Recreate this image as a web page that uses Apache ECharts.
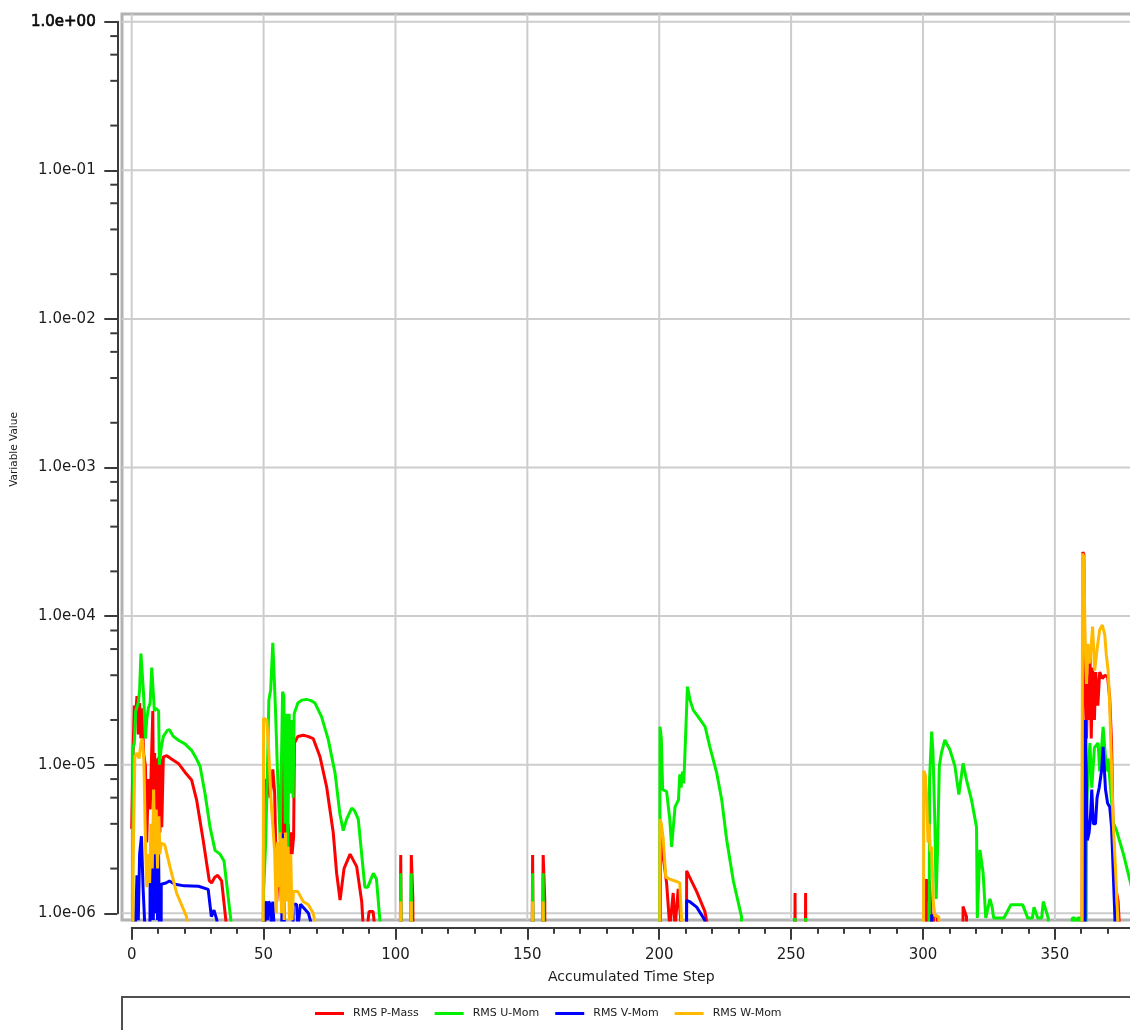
<!DOCTYPE html>
<html>
<head>
<meta charset="utf-8">
<script src="https://cdn.jsdelivr.net/npm/echarts@6/dist/echarts.min.js"></script>
<style>
  html, body { margin: 0; padding: 0; background: #ffffff; }
  #chart { width: 1130px; height: 1030px; }
</style>
</head>
<body>
<div id="chart"></div>
<script>
// Residual monitor: RMS residuals against accumulated time step (log scale)
const seriesNames = ['RMS P-Mass', 'RMS U-Mom', 'RMS V-Mom', 'RMS W-Mom'];
const seriesColors = ['#ff0000', '#00f000', '#0000ff', '#ffba00'];

const xGridSteps = [0, 50, 100, 150, 200, 250, 300, 350];
const yDecades = [1e-6, 1e-5, 1e-4, 1e-3, 1e-2, 1e-1, 1];
const minorMultipliers = [2, 4, 6, 8];

// [accumulated time step, residual]; 1e-9 marks values far below the plotted floor
const pMass = [
  [0, 3.7e-6], [0.5, 1.2e-5], [1, 2.5e-5], [1.5, 2.2e-5], [2, 2.9e-5], [2.5, 1.6e-5], [3, 2.6e-5], [3.5, 1.5e-5],
  [4, 2.4e-5], [4.5, 1.2e-5], [5.2, 9.8e-6], [5.7, 3e-6], [6.3, 8e-6], [7, 5e-6], [7.5, 1.1e-5], [8, 2.3e-5],
  [8.3, 4e-6], [8.7, 1.2e-5], [9.1, 3.5e-6], [9.5, 1.1e-5], [9.9, 3.5e-6], [10.3, 1.13e-5], [10.7, 3.5e-6],
  [11.1, 1.1e-5], [11.4, 3.8e-6], [12, 1.13e-5], [13.3, 1.15e-5], [15.5, 1.08e-5], [17.7, 1.02e-5], [20.2, 8.9e-6],
  [22.7, 7.9e-6], [24.6, 5.8e-6], [27.1, 3.1e-6], [29.4, 1.66e-6], [30.3, 1.6e-6], [31.5, 1.75e-6], [32.6, 1.8e-6],
  [34.1, 1.65e-6], [36, 8e-7], [37, 1e-9],
  [49.5, 1e-9], [50, 5.8e-6], [50.5, 8e-6], [51, 5.2e-6], [51.8, 9.8e-6], [52.5, 6e-6], [53.5, 9.3e-6], [54.2, 6.5e-6],
  [55, 1.2e-6], [56, 3e-6], [56.7, 1.2e-6], [57.3, 1.3e-5], [57.8, 3e-6], [58.3, 1.1e-5], [58.8, 1.5e-6], [59.3, 4e-6],
  [59.8, 2.5e-6], [60.3, 3.5e-6], [60.8, 2.5e-6], [61.4, 3.3e-6], [61.7, 1.4e-5], [63, 1.55e-5], [65, 1.58e-5],
  [66.8, 1.55e-5], [68.8, 1.5e-5], [71.4, 1.13e-5], [73.9, 7.1e-6], [76.4, 3.5e-6], [77.7, 1.86e-6], [79, 1.23e-6],
  [80.5, 2e-6], [82.8, 2.5e-6], [85.3, 2.06e-6], [87.2, 1.2e-6], [87.8, 8e-7], [89.3, 8e-7], [90, 1.03e-6],
  [91.5, 1.03e-6], [92.2, 8e-7], [93, 1e-9],
  [101, 1e-9], [102, 2.47e-6], [103, 1e-9], [105, 1e-9], [106, 2.47e-6], [106.6, 1.25e-6], [107, 1e-9],
  [151, 1e-9], [152, 2.47e-6], [153, 1e-9], [155, 1e-9], [156, 2.47e-6], [156.6, 1.25e-6], [157, 1e-9],
  [200.3, 1e-9], [200.5, 3.5e-6], [201.5, 2.4e-6], [202.8, 1.6e-6], [204, 8e-7], [205.3, 1.37e-6], [206, 8e-7],
  [207.2, 1.46e-6], [208.4, 8e-7], [209.9, 1e-9], [210.4, 1.93e-6], [211.2, 1.8e-6], [214.2, 1.4e-6], [217.3, 1.03e-6],
  [218.5, 8e-7], [219, 1e-9],
  [251, 1e-9], [251.5, 1.37e-6], [252, 1e-9], [255, 1e-9], [255.5, 1.37e-6], [256, 1e-9],
  [301, 1e-9], [301.3, 1.7e-6], [301.8, 1.2e-6], [302.4, 1.65e-6], [303, 1.1e-6], [303.3, 1e-9], [304, 9.8e-7],
  [305.5, 9.5e-7], [306, 1e-9], [314.5, 1e-9], [315.2, 1.11e-6], [316.5, 9.5e-7], [317, 1e-9],
  [360, 1e-9], [360.6, 2.7e-4], [361, 2.6e-4], [361.5, 3e-5], [362, 1.5e-5], [362.5, 4e-5], [363, 2e-5], [363.3, 5.6e-5],
  [363.8, 1.5e-5], [364.3, 4.5e-5], [365, 2e-5], [365.5, 4.2e-5], [366.3, 2.5e-5], [367, 4.2e-5], [368, 3.8e-5],
  [369, 4e-5], [370, 3.9e-5], [370.8, 2.8e-5], [371.5, 1.4e-5], [372.1, 3.6e-6], [373, 1.5e-6], [374, 1.2e-6],
  [374.5, 8e-7], [375, 1e-9]
];

const uMom = [
  [0, 1e-9], [0.5, 1.3e-5], [1, 1.4e-5], [1.5, 2.3e-5], [2.5, 2.6e-5], [3, 3.2e-5], [3.5, 5.6e-5], [4, 5.7e-5],
  [4.5, 3e-5], [5.2, 1.5e-5], [5.7, 2e-5], [6.3, 2.4e-5], [7, 2.6e-5], [7.6, 4.5e-5], [8, 4.4e-5], [8.6, 2.3e-5],
  [9.2, 2.4e-5], [10.2, 2.3e-5], [10.5, 1e-5], [11.2, 1.3e-5], [12, 1.55e-5], [13.5, 1.7e-5], [14.3, 1.72e-5],
  [15.8, 1.55e-5], [18, 1.45e-5], [20.2, 1.38e-5], [22.7, 1.25e-5], [24.5, 1.1e-5], [25.9, 9.8e-6], [27.8, 6.4e-6],
  [29.7, 3.8e-6], [31.6, 2.65e-6], [33.5, 2.5e-6], [35, 2.25e-6], [37.3, 1e-6], [39.2, 5e-7], [41, 1e-9],
  [49.8, 1e-9], [50, 1.4e-6], [50.8, 3e-6], [51.5, 1e-5], [52, 2.7e-5], [52.7, 3.2e-5], [53.5, 6.6e-5], [54, 6.4e-5],
  [54.5, 2.4e-5], [55.2, 9.8e-6], [56.3, 3.1e-6], [57.2, 3.1e-5], [57.7, 2.9e-5], [58.2, 4e-6], [58.7, 2.2e-5],
  [59.2, 2.7e-6], [59.7, 2.2e-5], [60.2, 6.4e-6], [60.6, 2e-5], [61.2, 6e-6], [61.6, 2.2e-5], [63, 2.6e-5],
  [64.5, 2.72e-5], [66.3, 2.75e-5], [68, 2.7e-5], [69.5, 2.6e-5], [72, 2.1e-5], [74.5, 1.48e-5], [77.1, 8.8e-6],
  [78.9, 4.7e-6], [80.2, 3.6e-6], [81.5, 4.3e-6], [83.4, 5.1e-6], [84.5, 4.9e-6], [85.9, 4.3e-6], [88.4, 1.5e-6],
  [89.5, 1.5e-6], [91.6, 1.86e-6], [92.8, 1.7e-6], [94.1, 9e-7], [95, 1e-9],
  [101, 1e-9], [102, 1.86e-6], [103, 1e-9], [105, 1e-9], [106, 1.86e-6], [107, 1e-9],
  [151, 1e-9], [152, 1.86e-6], [153, 1e-9], [155, 1e-9], [156, 1.86e-6], [157, 1e-9],
  [200, 1e-9], [200.3, 1.8e-5], [200.8, 1.5e-5], [201.3, 6.8e-6], [202.8, 6.6e-6], [204, 4.3e-6], [204.7, 2.8e-6],
  [206, 5.2e-6], [207.3, 5.8e-6], [207.8, 8.6e-6], [208.3, 7e-6], [208.8, 9e-6], [209.3, 7.5e-6], [209.7, 1.12e-5],
  [210.7, 3.35e-5], [211.7, 2.72e-5], [212.9, 2.33e-5], [214.8, 2.1e-5], [217.4, 1.8e-5], [219.2, 1.32e-5],
  [221.8, 8.8e-6], [223.7, 5.8e-6], [225.6, 3.1e-6], [228.1, 1.65e-6], [231.2, 9.5e-7], [232, 1e-9],
  [251, 1e-9], [251.5, 9.3e-7], [252, 1e-9], [255, 1e-9], [255.5, 9.3e-7], [256, 1e-9],
  [302, 1e-9], [302.5, 8e-6], [303.3, 1.67e-5], [303.8, 1.2e-5], [304.5, 4.1e-6], [305, 1.25e-6], [305.6, 3e-6],
  [306.2, 9.8e-6], [307, 1.2e-5], [308.3, 1.47e-5], [310.2, 1.26e-5], [312.1, 9.8e-6], [313.6, 6.3e-6],
  [315.2, 1.02e-5], [316.5, 7.9e-6], [318.4, 5.8e-6], [320.3, 3.8e-6], [320.6, 9.3e-7], [321.6, 2.67e-6],
  [322.8, 1.87e-6], [323.8, 9.3e-7], [325.4, 1.25e-6], [326.2, 1.1e-6], [326.8, 9.3e-7], [330.7, 9.3e-7],
  [333.3, 1.14e-6], [337.8, 1.14e-6], [339.7, 9.3e-7], [341.5, 9.3e-7], [342.1, 1.1e-6], [343.5, 9.3e-7],
  [345, 9.3e-7], [345.6, 1.2e-6], [347.5, 9.3e-7], [348, 1e-9],
  [356.3, 1e-9], [356.6, 9.3e-7], [357.6, 9.3e-7], [358, 1e-9], [358.6, 9.3e-7], [359.6, 9.3e-7], [360, 1e-9],
  [361.5, 1e-9], [362, 5e-6], [362.5, 8e-6], [363.3, 1.4e-5], [364, 7e-6], [365, 1.3e-5], [366.4, 1.4e-5],
  [367, 9e-6], [368.3, 1.8e-5], [369.6, 9e-6], [370.2, 1.1e-5], [372.1, 4.1e-6], [373.4, 3.6e-6], [376, 2.5e-6],
  [378.5, 1.65e-6], [380, 1.3e-6]
];

const vMom = [
  [1, 1e-9], [1.5, 9e-7], [2, 1.8e-6], [2.5, 9e-7], [3, 2.5e-6], [3.7, 3.3e-6], [4.3, 1.5e-6], [5, 8e-7], [5.2, 1e-9],
  [6.5, 1e-9], [7, 2.5e-6], [7.4, 9e-7], [7.8, 3e-6], [8.2, 9e-7], [8.6, 3.1e-6], [9, 1e-6], [9.4, 3e-6], [9.8, 9e-7],
  [10.2, 2.5e-6], [10.5, 8e-7], [10.9, 1e-9], [11.2, 1.57e-6], [13, 1.6e-6], [14.3, 1.65e-6], [16.4, 1.57e-6],
  [20, 1.53e-6], [25.3, 1.52e-6], [29, 1.45e-6], [30.2, 9.5e-7], [31.2, 1.05e-6], [32.3, 9e-7], [32.7, 1e-9],
  [50.3, 1e-9], [50.6, 1.15e-6], [51.2, 1.2e-6], [51.5, 9e-7], [51.9, 1.2e-6], [52.5, 1.15e-6], [53, 8e-7],
  [53.5, 1.2e-6], [54, 8e-7], [54.5, 1e-9], [56.5, 1e-9], [57, 3.4e-6], [57.8, 3.3e-6], [58.2, 1e-9], [60.8, 1e-9],
  [61.2, 1.15e-6], [62.5, 1.15e-6], [63, 8e-7], [64, 1.15e-6], [65, 1.1e-6], [67, 1e-6], [68.5, 8e-7], [69, 1e-9],
  [210.2, 1e-9], [210.4, 1.22e-6], [211.5, 1.2e-6], [214.2, 1.1e-6], [217.3, 9e-7], [218, 1e-9],
  [303, 1e-9], [303.3, 9.8e-7], [303.7, 1e-9],
  [361.2, 1e-9], [361.6, 2e-5], [362.3, 3.1e-6], [363, 3.5e-6], [363.5, 4.5e-6], [364, 6.8e-6], [364.6, 4e-6],
  [365.4, 4e-6], [366, 6e-6], [366.8, 7e-6], [367.7, 9.1e-6], [368.3, 1.32e-5], [369.2, 6.8e-6], [370, 5.5e-6],
  [370.8, 5.2e-6], [371.5, 3.8e-6], [372.8, 9e-7], [373.2, 1e-9]
];

const wMom = [
  [0.3, 1e-9], [0.5, 1.9e-6], [1.2, 1.13e-5], [2, 1.2e-5], [2.8, 1.1e-5], [3.5, 1.4e-5], [4, 1.5e-5], [4.6, 1.1e-5],
  [5.2, 3e-6], [5.7, 1.5e-6], [6.2, 2.5e-6], [6.8, 1.6e-6], [7.3, 4e-6], [7.8, 2e-6], [8.3, 6.8e-6], [8.8, 2.5e-6],
  [9.3, 5e-6], [9.8, 2e-6], [10.3, 4.5e-6], [10.7, 2.5e-6], [11.2, 2.96e-6], [12.5, 2.9e-6], [14.5, 2.06e-6],
  [17, 1.37e-6], [20.8, 9.5e-7], [21.5, 7e-7], [22, 1e-9],
  [49.6, 1e-9], [50, 2.05e-5], [51.2, 2e-5], [52, 1.2e-5], [52.9, 5.5e-6], [54.2, 2.6e-6], [54.8, 1e-6], [55.3, 3e-6],
  [55.8, 1.5e-6], [56.3, 3.5e-6], [56.8, 1e-6], [57.3, 3.2e-6], [57.8, 9e-7], [58.3, 3.5e-6], [58.8, 1.2e-6],
  [59.3, 2.8e-6], [59.8, 9e-7], [60.3, 2.5e-6], [60.8, 9e-7], [61.3, 1.4e-6], [63, 1.4e-6], [65, 1.2e-6],
  [67, 1.14e-6], [68.8, 1e-6], [70, 8e-7], [70.5, 1e-9],
  [101, 1e-9], [102, 1.2e-6], [103, 1e-9], [105, 1e-9], [106, 1.2e-6], [107, 1e-9],
  [151, 1e-9], [152, 1.2e-6], [153, 1e-9], [155, 1e-9], [156, 1.2e-6], [157, 1e-9],
  [200, 1e-9], [200.3, 4.3e-6], [200.8, 4e-6], [201.5, 3.2e-6], [202.5, 1.75e-6], [204, 1.7e-6], [206, 1.65e-6],
  [207.8, 1.6e-6], [208.6, 8e-7], [209, 1e-9],
  [300, 1e-9], [300.3, 9.1e-6], [300.9, 8.5e-6], [301.4, 6e-6], [301.9, 3e-6], [302.3, 4e-6], [302.8, 2.6e-6],
  [303.3, 2.8e-6], [303.9, 1.2e-6], [304.5, 9.6e-7], [306, 9.5e-7], [306.5, 1e-9],
  [360, 1e-9], [360.5, 2.64e-4], [361, 2.5e-4], [361.5, 6.2e-5], [362, 3.5e-5], [362.5, 6.5e-5], [363, 4.8e-5],
  [363.5, 5.5e-5], [364.3, 8.5e-5], [365.1, 4.3e-5], [366, 6e-5], [367, 8.1e-5], [368, 8.7e-5], [368.9, 7.5e-5],
  [369.5, 5.5e-5], [370.2, 4.3e-5], [370.8, 2.5e-5], [372.1, 4.1e-6], [373, 2e-6], [374, 8e-7], [374.5, 1e-9]
];

const seriesData = [pMass, uMom, vMom, wMom];

// ---- layout ----
const FONT = 'DejaVu Sans';
const AXIS_COLOR = '#3a3a3a';
const GRID_COLOR = '#cdcdcd';
const AXIS_OFFSET = 14.4;

// axes rectangle spans steps 0..X_MAX and decades 1e-6..1e0; it runs past the right edge of the page
const X_MAX = 400;
const PX_PER_STEP = 2.6376;
const PX_PER_DECADE = 148.6;
const axesRect = { left: 131.7, top: 21.7, width: X_MAX * PX_PER_STEP, height: 6 * PX_PER_DECADE };
// plot frame is slightly larger than the axes rectangle
const FRAME_LEFT = 122, FRAME_TOP = 14, FRAME_BOTTOM_Y = 920;
const frameRect = {
  left: FRAME_LEFT, top: FRAME_TOP,
  width: axesRect.left - FRAME_LEFT + axesRect.width,
  height: FRAME_BOTTOM_Y - FRAME_TOP
};
const frameXMin = -(axesRect.left - FRAME_LEFT) / PX_PER_STEP;
const frameYMax = Math.pow(10, (axesRect.top - FRAME_TOP) / PX_PER_DECADE);
const frameYMin = Math.pow(10, -6 - (FRAME_BOTTOM_Y - (axesRect.top + axesRect.height)) / PX_PER_DECADE);

function expLabel(v) {
  const e = Math.round(Math.log10(v));
  const s = '1.0e' + (e < 0 ? '-' : '+') + String(Math.abs(e)).padStart(2, '0');
  return e === 0 ? '{b|' + s + '}' : s;
}

const minorTickValues = [];
yDecades.slice(0, -1).forEach(d => minorMultipliers.forEach(m => minorTickValues.push([0, d * m])));

const chart = echarts.init(document.getElementById('chart'), null, { renderer: 'canvas' });

const option = {
  backgroundColor: '#ffffff',
  animation: false,
  grid: [
    Object.assign({ show: true, borderColor: '#b2b2b2', borderWidth: 3, backgroundColor: 'transparent',
                    containLabel: false, outerBoundsMode: 'none' }, frameRect),
    Object.assign({ show: false, containLabel: false, outerBoundsMode: 'none' }, axesRect)
  ],
  xAxis: [
    { type: 'value', gridIndex: 0, min: frameXMin, max: X_MAX, show: false },
    {
      type: 'value', gridIndex: 1, min: 0, max: X_MAX, interval: 50, offset: AXIS_OFFSET,
      axisLine: { show: true, onZero: false, lineStyle: { color: AXIS_COLOR, width: 2 } },
      axisTick: { show: true, length: 12, lineStyle: { color: AXIS_COLOR, width: 2 } },
      minorTick: { show: true, splitNumber: 5, length: 6, lineStyle: { color: AXIS_COLOR, width: 2 } },
      splitLine: { show: false },
      axisLabel: { margin: 20, fontFamily: FONT, fontSize: 15, color: '#1c1c1c' },
      name: 'Accumulated Time Step', nameLocation: 'middle', nameGap: 43,
      nameTextStyle: { fontFamily: FONT, fontSize: 14, color: '#1c1c1c', padding: [0, 56, 0, 0] }
    }
  ],
  yAxis: [
    { type: 'log', logBase: 10, gridIndex: 0, min: frameYMin, max: frameYMax, show: false },
    {
      type: 'log', logBase: 10, gridIndex: 1, min: 1e-6, max: 1, splitNumber: 6, offset: AXIS_OFFSET,
      axisLine: { show: true, onZero: false, lineStyle: { color: AXIS_COLOR, width: 2 } },
      axisTick: { show: true, length: 13, lineStyle: { color: AXIS_COLOR, width: 2 } },
      minorTick: { show: false },
      splitLine: { show: false },
      axisLabel: {
        margin: 21.6, fontFamily: FONT, fontSize: 15, color: '#1c1c1c', formatter: expLabel,
        rich: { b: { fontFamily: FONT, fontSize: 15, color: '#0a0a0a', textBorderColor: '#0a0a0a', textBorderWidth: 0.7 } }
      },
      name: 'Variable Value', nameLocation: 'middle', nameGap: 81,
      nameTextStyle: { fontFamily: FONT, fontSize: 10.5, color: '#1c1c1c', padding: [0, 0, 0, 36] }
    }
  ],
  legend: {
    data: seriesNames, left: 315, top: 1008, padding: 0,
    icon: 'rect', itemWidth: 29, itemHeight: 3, itemGap: 16,
    textStyle: { fontFamily: FONT, fontSize: 11, color: '#1c1c1c', padding: [0, 0, 0, 4] }
  },
  graphic: [{
    type: 'rect', silent: true, z: -1,
    shape: { x: 122, y: 997, width: 1100, height: 100 },
    style: { fill: 'none', stroke: '#505050', lineWidth: 2 }
  }],
  series: [
    {
      type: 'custom', name: 'xgrid', xAxisIndex: 0, yAxisIndex: 0, silent: true, z: 0,
      data: xGridSteps.map(s => [s, 1e-3]), encode: { x: 0, y: 1 },
      renderItem: (params, api) => {
        const cs = params.coordSys;
        const x = api.coord([api.value(0), 1e-3])[0];
        return { type: 'line', shape: { x1: x, y1: cs.y, x2: x, y2: cs.y + cs.height },
                 style: { stroke: GRID_COLOR, lineWidth: 2 } };
      }
    },
    {
      type: 'custom', name: 'ygrid', xAxisIndex: 0, yAxisIndex: 0, silent: true, z: 0,
      data: yDecades.map(d => [0, d]), encode: { x: 0, y: 1 },
      renderItem: (params, api) => {
        const cs = params.coordSys;
        const y = api.coord([0, api.value(1)])[1];
        return { type: 'line', shape: { x1: cs.x, y1: y, x2: cs.x + cs.width, y2: y },
                 style: { stroke: GRID_COLOR, lineWidth: 2 } };
      }
    },
    {
      type: 'custom', name: 'yminor', xAxisIndex: 1, yAxisIndex: 1, silent: true, clip: false, z: 3,
      data: minorTickValues, encode: { x: 0, y: 1 },
      renderItem: (params, api) => {
        const cs = params.coordSys;
        const y = api.coord([0, api.value(1)])[1];
        const ax = cs.x - AXIS_OFFSET;
        return { type: 'line', shape: { x1: ax - 7, y1: y, x2: ax, y2: y },
                 style: { stroke: AXIS_COLOR, lineWidth: 2 } };
      }
    }
  ].concat(seriesNames.map((name, i) => ({
    type: 'line', name: name, xAxisIndex: 0, yAxisIndex: 0,
    data: seriesData[i], symbol: 'none', showSymbol: false, clip: true, z: 2 + i * 0.01,
    lineStyle: { color: seriesColors[i], width: 3 }, itemStyle: { color: seriesColors[i] },
    emphasis: { disabled: true }
  })))
};

chart.setOption(option);
</script>
</body>
</html>
